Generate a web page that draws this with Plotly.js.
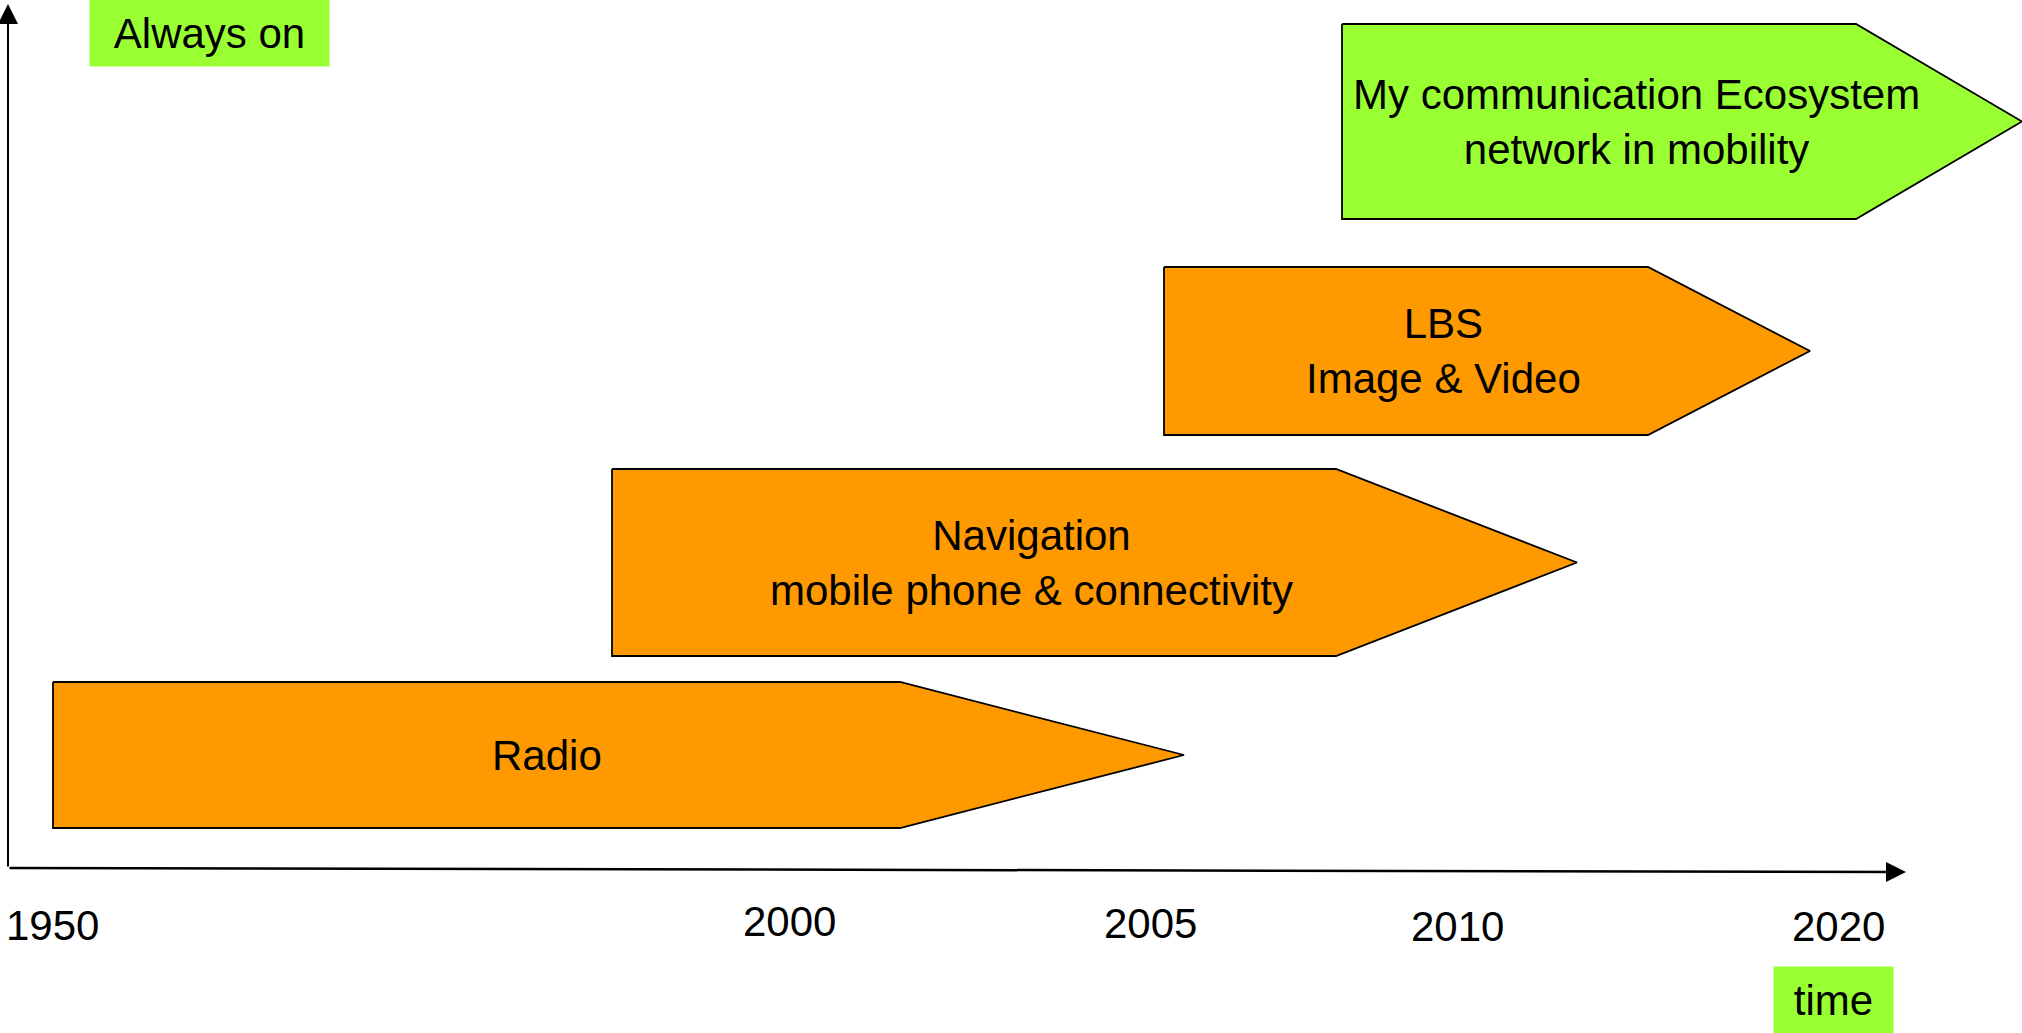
<!DOCTYPE html>
<html>
<head>
<meta charset="utf-8">
<script src="https://cdn.plot.ly/plotly-3.0.1.min.js"></script>
<style>
html,body{margin:0;padding:0;background:#fff;}
#chart{width:2022px;height:1033px;}
</style>
</head>
<body>
<div id="chart"></div>
<script>
// ---- Data (timeline units) ----
const phases = ["Radio", "Navigation<br>mobile phone & connectivity", "LBS<br>Image & Video", "My communication Ecosystem<br>network in mobility"];
const phaseStart = [53, 612, 1164, 1342];
const phaseBodyEnd = [900, 1336, 1648, 1856];
const phaseTip = [1184, 1577, 1810, 2022];
const phaseTop = [682, 469, 267, 24];
const phaseBottom = [828, 656, 435, 219];
const phaseLabelX = [547, 1031, 1443, 1636];
const phaseKind = ["past", "past", "past", "future"];

const yearLabels = ["1950", "2000", "2005", "2010", "2020"];
const yearPos = [52, 789, 1150, 1457, 1838];
const yearRow = [925, 921, 923, 926, 926];

const axisOrigin = [8, 868];
const xAxisEnd = [1906, 872];
const yAxisEnd = [8, 4];

// ---- Styles ----
const FONT = "Liberation Sans, Arial, Helvetica, sans-serif";
const colors = {past: "#FF9900", future: "#99FF33"};

const traces = phases.map((p, i) => {
  const mid = (phaseTop[i] + phaseBottom[i]) / 2;
  return {
    type: "scatter",
    mode: "lines",
    x: [phaseStart[i], phaseBodyEnd[i], phaseTip[i], phaseBodyEnd[i], phaseStart[i], phaseStart[i]],
    y: [phaseTop[i], phaseTop[i], mid, phaseBottom[i], phaseBottom[i], phaseTop[i]],
    fill: "toself",
    fillcolor: colors[phaseKind[i]],
    line: {color: "#000", width: 1.8},
    hoverinfo: "skip",
    showlegend: false
  };
});

const annotations = [];
phases.forEach((p, i) => {
  annotations.push({
    x: phaseLabelX[i], y: (phaseTop[i] + phaseBottom[i]) / 2,
    xref: "x", yref: "y", text: p, showarrow: false,
    xanchor: "center", yanchor: "middle",
    font: {family: FONT, size: 42, color: "#000"}
  });
});
yearLabels.forEach((t, i) => {
  annotations.push({
    x: yearPos[i], y: yearRow[i], xref: "x", yref: "y", text: t, showarrow: false,
    xanchor: "center", yanchor: "middle",
    font: {family: FONT, size: 42, color: "#000"}
  });
});
// axis arrows
annotations.push({
  x: xAxisEnd[0], y: xAxisEnd[1], ax: axisOrigin[0], ay: axisOrigin[1],
  xref: "x", yref: "y", axref: "x", ayref: "y", text: "",
  showarrow: true, arrowhead: 2, arrowsize: 1.6, arrowwidth: 2.5, arrowcolor: "#000"
});
annotations.push({
  x: yAxisEnd[0], y: yAxisEnd[1], ax: axisOrigin[0], ay: axisOrigin[1],
  xref: "x", yref: "y", axref: "x", ayref: "y", text: "",
  showarrow: true, arrowhead: 2, arrowsize: 2, arrowwidth: 2, arrowcolor: "#000"
});
// green boxed labels
annotations.push({
  x: 209.5, y: 33, xref: "x", yref: "y", text: "Always on", showarrow: false,
  xanchor: "center", yanchor: "middle", width: 239, height: 66, borderpad: 0,
  bgcolor: "#99FF33", font: {family: FONT, size: 42, color: "#000"}
});
annotations.push({
  x: 1833.5, y: 1000, xref: "x", yref: "y", text: "time", showarrow: false,
  xanchor: "center", yanchor: "middle", width: 119, height: 66, borderpad: 0,
  bgcolor: "#99FF33", font: {family: FONT, size: 42, color: "#000"}
});

const layout = {
  width: 2022, height: 1033,
  margin: {l: 0, r: 0, t: 0, b: 0, pad: 0},
  paper_bgcolor: "#fff", plot_bgcolor: "#fff",
  xaxis: {range: [0, 2022], visible: false, fixedrange: true},
  yaxis: {range: [1033, 0], visible: false, fixedrange: true},
  annotations: annotations,
  showlegend: false
};

Plotly.newPlot("chart", traces, layout, {staticPlot: true, displayModeBar: false});
</script>
</body>
</html>
